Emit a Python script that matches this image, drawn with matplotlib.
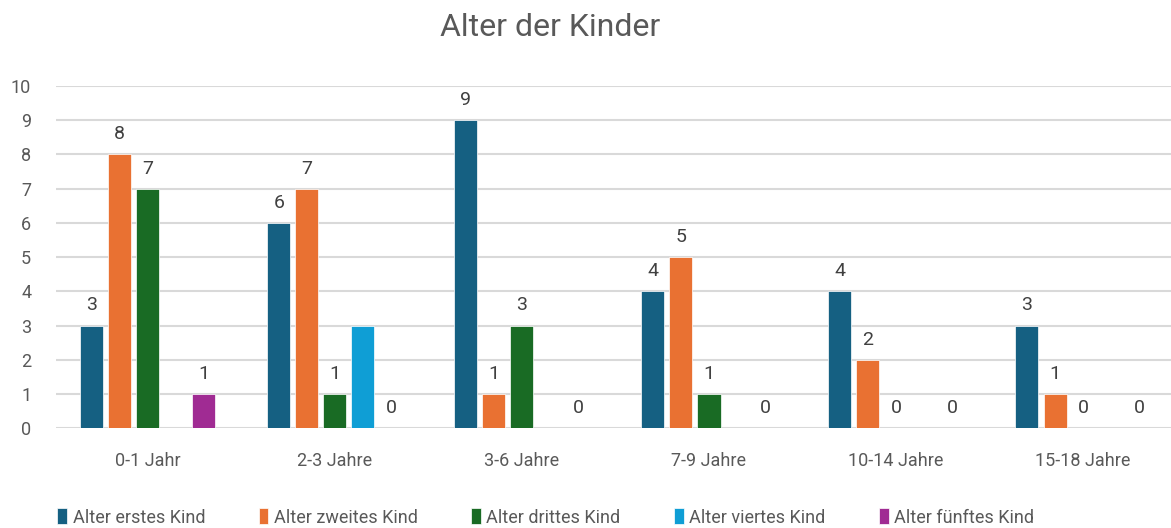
import numpy as np
import matplotlib.pyplot as plt

plt.rcParams['font.family'] = ['Roboto', 'DejaVu Sans']

categories = ['0-1 Jahr', '2-3 Jahre', '3-6 Jahre', '7-9 Jahre', '10-14 Jahre', '15-18 Jahre']
series_names = ['Alter erstes Kind', 'Alter zweites Kind', 'Alter drittes Kind',
                'Alter viertes Kind', 'Alter fünftes Kind']
erstes = [3, 6, 9, 4, 4, 3]
zweites = [8, 7, 1, 5, 2, 1]
drittes = [7, 1, 3, 1, 0, 0]
viertes = [np.nan, 3, np.nan, np.nan, np.nan, np.nan]
fuenftes = [1, 0, 0, 0, 0, 0]
colors = ['#156082', '#E97132', '#196B24', '#0F9ED5', '#A02B93']
# the fourth series carries no data labels in the original
show_labels = [True, True, True, False, True]

series = [erstes, zweites, drittes, viertes, fuenftes]

fig = plt.figure(figsize=(11.71, 5.28), dpi=100)
ax = fig.add_axes([0.048, 0.189, 0.952, 0.648])

x = np.arange(len(categories))
step = 0.15
width = 0.123
for i, (vals, name, col) in enumerate(zip(series, series_names, colors)):
    pos = x + (i - 2) * step
    vals = np.array(vals, dtype=float)
    ax.bar(pos, np.nan_to_num(vals), width, color=col, label=name, zorder=3,
           edgecolor='white', linewidth=0.5)
    if not show_labels[i]:
        continue
    for p, v in zip(pos, vals):
        if np.isnan(v):
            continue
        ax.annotate(f'{int(v)}', (p, v), xytext=(0, 8), textcoords='offset points',
                    ha='center', va='bottom', fontsize=14, color='#404040')

ax.set_ylim(0, 10)
ax.set_xlim(-0.49, 5.47)
ax.set_yticks(range(0, 11))
ax.set_xticks(x)
ax.set_xticklabels(categories)
ax.yaxis.grid(True, color='#D9D9D9', linewidth=1.5, zorder=0)
ax.tick_params(axis='both', length=0, labelsize=13, labelcolor='#595959')
ax.tick_params(axis='x', pad=17)
ax.tick_params(axis='y', pad=18)
for s in ax.spines.values():
    s.set_visible(False)

fig.text(0.47, 0.948, 'Alter der Kinder', ha='center', va='center', fontsize=23, color='#595959')

fig.legend(loc='center', bbox_to_anchor=(0.466, 0.02), ncol=5, frameon=False,
           fontsize=13, handlelength=0.55, handleheight=1.0, handletextpad=0.3,
           columnspacing=2.95, labelcolor='#595959')

fig.savefig('out.png', dpi=100)
